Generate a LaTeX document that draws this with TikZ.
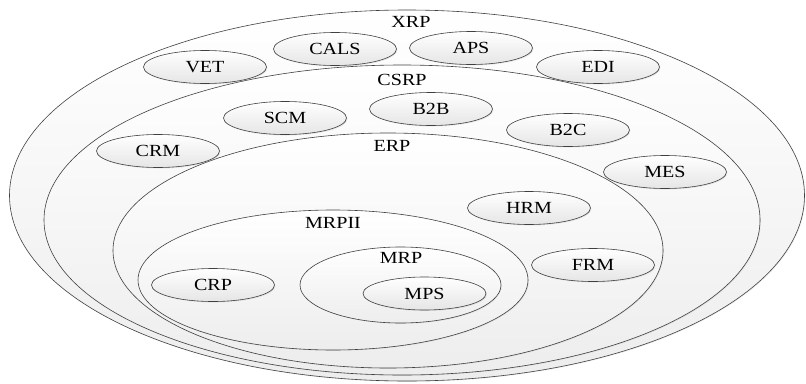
\documentclass[tikz,border=0pt]{standalone}
\usepackage{fontspec}
\setmainfont{Liberation Serif}[FakeStretch=1.18]
\usetikzlibrary{shapes.geometric,shadows}
\tikzset{
  big/.style={ellipse, draw=black!75, line width=0.6pt, top color=white, bottom color=black!7, inner sep=0pt,
    drop shadow={shadow xshift=0.8pt, shadow yshift=-0.8pt, opacity=0.2, fill=black!40}},
  small/.style={ellipse, draw=black!75, line width=0.6pt, top color=white, bottom color=black!10,
    minimum width=123pt, minimum height=33pt, inner sep=0pt,
    drop shadow={shadow xshift=1pt, shadow yshift=-1pt, opacity=0.2, fill=black!40},
    font=\fontsize{17}{19}\selectfont},
  lbl/.style={font=\fontsize{17}{19}\selectfont, inner sep=0pt}
}
\begin{document}
\begin{tikzpicture}[x=1pt,y=-1pt]
\useasboundingbox (0,0) rectangle (806,383);
\node[big, minimum width=795pt, minimum height=371pt] (xrp) at (407,195.5) {};
\node[big, minimum width=716pt, minimum height=310pt] (csrp) at (402,220) {};
\node[big, minimum width=550pt, minimum height=235pt] (erp) at (388,250.5) {};
\node[big, minimum width=390pt, minimum height=140pt] (mrpii) at (333,280) {};
\node[big, minimum width=201pt, minimum height=76pt] (mrp) at (400.5,285) {};
\node[small, minimum width=123pt, minimum height=33pt] (mps) at (424.5,293.5) {MPS};

\node[lbl] (xrpl) at (411,22) {XRP};
\node[lbl] (csrpl) at (402,80) {CSRP};
\node[lbl] (erpl) at (392,146) {ERP};
\node[lbl] (mrpiil) at (333,223) {MRPII};
\node[lbl] (mrpl) at (401,258) {MRP};

\node[small] (vet) at (205,67) {VET};
\node[small] (cals) at (335,49) {CALS};
\node[small] (aps) at (471,48) {APS};
\node[small] (edi) at (598,67) {EDI};
\node[small] (scm) at (285,118) {SCM};
\node[small] (b2b) at (431,109) {B2B};
\node[small] (b2c) at (568,130) {B2C};
\node[small] (crm) at (158,151) {CRM};
\node[small] (mes) at (665,172) {MES};
\node[small] (hrm) at (529,208) {HRM};
\node[small] (frm) at (593,265) {FRM};
\node[small] (crp) at (213,285) {CRP};
\end{tikzpicture}
\end{document}
